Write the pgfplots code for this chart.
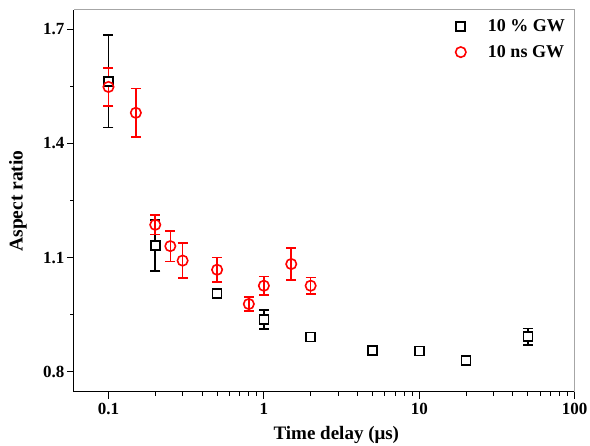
\documentclass[border=0pt]{standalone}
\usepackage{pgfplots}
\pgfplotsset{compat=1.18}
\usepackage{fontspec}
\setmainfont{Liberation Serif}
\begin{document}
\begin{tikzpicture}
\path[use as bounding box] (-74pt,-54pt) rectangle (516pt,392pt);
\begin{axis}[
  at={(0pt,0pt)}, anchor=south west,
  scale only axis, width=500.7pt, height=382pt,
  xmode=log, xmin=0.06, xmax=100,
  ymin=0.747, ymax=1.75,
  axis x line*=bottom, axis y line*=left,
  axis line style={black, line width=1pt},
  tick align=outside,
  major tick length=7pt, minor tick length=4pt,
  every tick/.style={black, line width=1pt},
  xtick={0.1,1,10,100}, xticklabels={0.1,1,10,100},
  ytick={0.8,1.1,1.4,1.7}, minor ytick={0.95,1.25,1.55},
  yticklabel style={/pgf/number format/fixed, /pgf/number format/precision=1, /pgf/number format/fixed zerofill, xshift=1pt},
  /pgf/number format/assume math mode=true,
  ticklabel style={font=\fontsize{17}{20}\selectfont\bfseries},
  xticklabel style={yshift=-1pt},
  xlabel={Time delay (μs)}, ylabel={Aspect ratio},
  every axis x label/.style={at={(axis description cs:0.5,0)}, anchor=center, xshift=12pt, yshift=-43pt, font=\fontsize{19}{22}\selectfont\bfseries},
  every axis y label/.style={at={(axis description cs:0,0.5)}, anchor=center, rotate=90, yshift=56pt, font=\fontsize{19.5}{22}\selectfont\bfseries},
  legend style={draw=none, fill=none, at={(0.991,0.985)}, anchor=north east,
    font=\fontsize{18}{20}\selectfont\bfseries, row sep=8pt},
  legend cell align=left,
  error bars/error bar style={line width=1.6pt},
  error bars/error mark options={rotate=90, mark size=5pt, line width=1.6pt},
  clip=false,
]
\draw[gray!70, line width=1pt] (rel axis cs:0,1) -- (rel axis cs:1,1) -- (rel axis cs:1,0);
\addplot[black, only marks, mark=square*, mark size=4.5pt,
  mark options={fill=white, line width=1.6pt},
  error bars/.cd, y dir=both, y explicit]
  table[x=x, y=y, y error=e] {
x y e
0.1 1.563 0.122
0.2 1.131 0.067
0.5 1.006 0.005
1 0.938 0.025
2 0.891 0.004
5 0.856 0.010
10 0.855 0.004
20 0.830 0.006
50 0.892 0.022
};
\addlegendentry{\hspace{20pt}10 \% GW}
\addplot[red, only marks, mark=o, mark size=5.2pt,
  mark options={line width=1.6pt},
  error bars/.cd, y dir=both, y explicit]
  table[x=x, y=y, y error=e] {
x y e
0.1 1.548 0.050
0.15 1.480 0.064
0.2 1.186 0.025
0.25 1.130 0.040
0.3 1.092 0.046
0.5 1.068 0.032
0.8 0.978 0.019
1 1.026 0.024
1.5 1.083 0.042
2 1.026 0.022
};
\addlegendentry{\hspace{20pt}10 ns GW}
\end{axis}
\end{tikzpicture}
\end{document}
